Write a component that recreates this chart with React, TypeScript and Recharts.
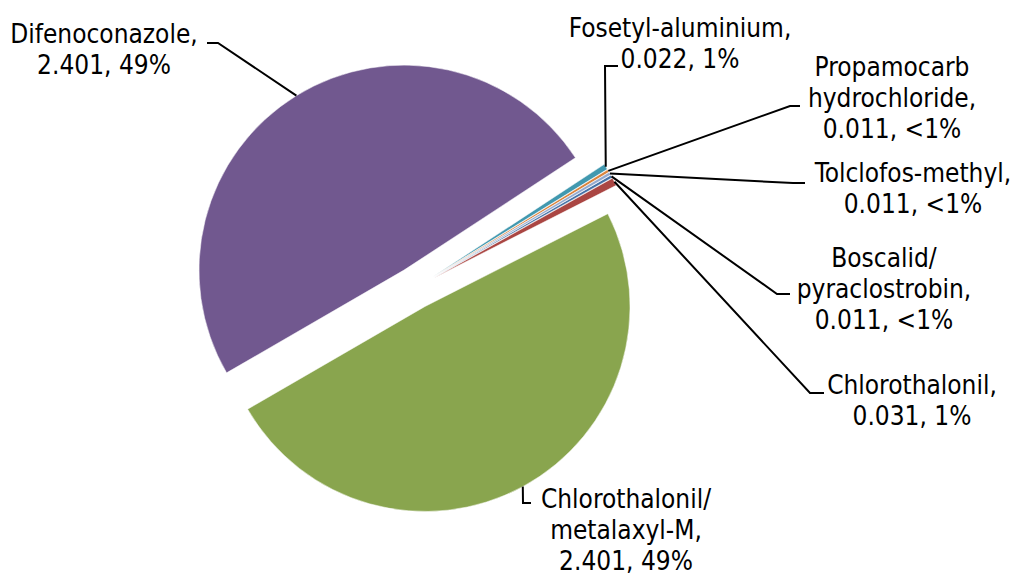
import React from "react";
import { PieChart, Pie, Cell, Sector } from "recharts";

const names = [
  "Boscalid/pyraclostrobin",
  "Chlorothalonil",
  "Chlorothalonil/metalaxyl-M",
  "Difenoconazole",
  "Fosetyl-aluminium",
  "Propamocarb hydrochloride",
  "Tolclofos-methyl",
];
const values = [0.011, 0.031, 2.401, 2.401, 0.022, 0.011, 0.011];
const pctLabels = ["<1%", "1%", "49%", "49%", "1%", "<1%", "<1%"];

const colors = ["#4572A7", "#AA4643", "#89A54E", "#71588F", "#4198AF", "#DB843D", "#93A9CF"];

const data = names.map((name, i) => ({ name, value: values[i], pct: pctLabels[i] }));

const EXPLODE = 21;
const RAD = Math.PI / 180;
const FONT = '"DejaVu Sans Condensed", "DejaVu Sans", sans-serif';

// where each label sits (centre x, first baseline) and the leader elbow
const labelPos = [
  { x: 884, y: 267, bend: [777, 294], end: [790, 294] },
  { x: 912, y: 394, bend: [810, 393], end: [824, 393] },
  { x: 626, y: 508, bend: [523, 503], end: [531, 503] },
  { x: 104, y: 43, bend: [218, 43], end: [207, 43] },
  { x: 680, y: 37, bend: [605, 66], end: [618, 66] },
  { x: 892, y: 76, bend: [790, 106], end: [800, 106] },
  { x: 913, y: 182, bend: [793, 183], end: [805, 183] },
];

const ExplodedSector = (props: any) => {
  const dx = EXPLODE * Math.cos(-props.midAngle * RAD);
  const dy = EXPLODE * Math.sin(-props.midAngle * RAD);
  return <Sector {...props} cx={props.cx + dx} cy={props.cy + dy} />;
};

const renderLabel = (props: any) => {
  const { cx, cy, midAngle, outerRadius, index } = props;
  const r = outerRadius + EXPLODE;
  const sx = cx + r * Math.cos(-midAngle * RAD);
  const sy = cy + r * Math.sin(-midAngle * RAD);
  const pos = labelPos[index];
  const entry = data[index];
  const lines = entry.name.split(/(?<=\/)|\s/);
  lines[lines.length - 1] += ",";
  lines.push(`${entry.value.toFixed(3)}, ${entry.pct}`);
  return (
    <g>
      <polyline
        points={`${sx},${sy} ${pos.bend[0]},${pos.bend[1]} ${pos.end[0]},${pos.end[1]}`}
        fill="none"
        stroke="#000"
        strokeWidth={2}
      />
      <text
        x={pos.x}
        y={pos.y}
        textAnchor="middle"
        fontSize={26}
        fontFamily={FONT}
        fontStretch="condensed"
        fill="#000"
      >
        {lines.map((l, i) => (
          <tspan key={i} x={pos.x} dy={i === 0 ? 0 : 31}>
            {l}
          </tspan>
        ))}
      </text>
    </g>
  );
};

export default function App() {
  return (
    <div style={{ position: "absolute", left: 0, top: 0, width: 1019, height: 577, background: "#fff" }}>
      <PieChart width={1019} height={577} margin={{ top: 0, right: 0, bottom: 0, left: 0 }}>
        <Pie
          data={data}
          dataKey="value"
          nameKey="name"
          cx={415}
          cy={288}
          outerRadius={205}
          startAngle={30}
          endAngle={-330}
          stroke="#fff"
          strokeWidth={0.5}
          shape={ExplodedSector}
          label={renderLabel}
          labelLine={false}
          isAnimationActive={false}
        >
          {data.map((d, i) => (
            <Cell key={d.name} fill={colors[i]} />
          ))}
        </Pie>
      </PieChart>
    </div>
  );
}
